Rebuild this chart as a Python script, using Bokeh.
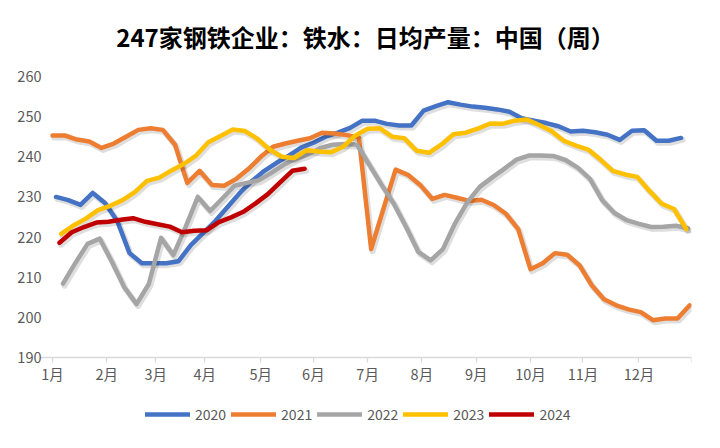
import numpy as np
from datetime import date
from bokeh.plotting import figure
from bokeh.models import Range1d, FixedTicker, Legend, LegendItem, Title
from bokeh.embed import file_html
from bokeh.resources import INLINE

# ---------------- data ----------------
title_text = "247家钢铁企业：铁水：日均产量：中国（周）"
years = ["2020", "2021", "2022", "2023", "2024"]
first_report = ["2020-01-03", "2021-01-01", "2022-01-07", "2023-01-06", "2024-01-05"]
colors = ["#4472C4", "#ED7D31", "#A5A5A5", "#FFC000", "#C00000"]

v2020 = [230.0, 229.2, 228.0, 231.0, 228.5, 224.0, 216.0, 213.5, 213.5, 213.5,
         214.0, 218.0, 221.0, 224.0, 227.5, 231.0, 234.0, 236.5, 238.5, 240.3,
         242.3, 243.5, 245.0, 246.0, 247.2, 249.0, 249.0, 248.2, 247.8, 247.8,
         251.5, 252.6, 253.6, 253.0, 252.5, 252.2, 251.8, 251.2, 249.6, 249.0,
         248.4, 247.6, 246.3, 246.5, 246.1, 245.5, 244.2, 246.5, 246.6, 244.0,
         244.0, 244.7]
v2021 = [245.3, 245.3, 244.3, 243.8, 242.2, 243.3, 245.0, 246.7, 247.1, 246.7,
         243.0, 233.5, 236.5, 233.0, 232.8, 234.5, 237.0, 240.0, 242.5, 243.3,
         244.0, 244.6, 246.0, 245.8, 245.4, 244.8, 217.0, 227.0, 236.8, 235.5,
         233.0, 229.5, 230.5, 229.8, 229.0, 229.3, 228.0, 225.8, 222.0, 212.0,
         213.5, 216.0, 215.6, 213.0, 208.0, 204.5, 203.0, 202.0, 201.3, 199.3,
         199.7, 199.7, 203.0]
v2022 = [208.4, 213.5, 218.3, 219.6, 213.8, 207.5, 203.3, 208.3, 219.8, 215.5,
         222.5, 230.0, 226.5, 229.6, 232.8, 233.5, 234.2, 236.0, 238.0, 239.5,
         240.6, 242.2, 243.0, 243.2, 243.0, 238.0, 233.0, 228.3, 222.5, 216.3,
         214.2, 217.0, 223.5, 228.7, 232.5, 234.8, 237.0, 239.3, 240.3, 240.3,
         240.2, 239.2, 237.3, 234.5, 229.2, 226.0, 224.2, 223.3, 222.5, 222.6,
         222.8, 222.2]
v2023 = [220.8, 222.9, 224.6, 226.7, 227.8, 229.2, 231.2, 234.0, 234.8, 236.6,
         238.2, 240.3, 243.6, 245.2, 246.8, 246.4, 244.5, 241.8, 240.0, 239.7,
         241.6, 241.3, 241.1, 242.5, 245.3, 247.0, 247.1, 245.0, 244.6, 241.5,
         241.0, 243.0, 245.6, 246.0, 247.0, 248.3, 248.2, 249.0, 249.3, 247.9,
         246.4, 244.0, 242.8, 241.8, 239.3, 236.5, 235.6, 235.0, 231.5, 228.3,
         227.0, 222.0]
v2024 = [218.6, 221.2, 222.5, 223.6, 223.8, 224.3, 224.7, 223.8, 223.2, 222.6,
         221.2, 221.6, 221.7, 223.7, 224.9, 226.3, 228.4, 230.7, 233.6, 236.5,
         237.0]
series_values = [v2020, v2021, v2022, v2023, v2024]

month_labels = ["1月", "2月", "3月", "4月", "5月", "6月", "7月", "8月", "9月",
                "10月", "11月", "12月", ""]
month_tick_days = [0, 31, 59, 87, 119, 149, 180, 211, 242, 273, 303, 335, 365]
y_ticks = [190, 200, 210, 220, 230, 240, 250, 260]
y_min, y_max = 190, 260
day_min, day_max = 0, 365

# ---------------- layout ----------------
DATA_W = 639            # pixel width of the Jan..Dec band
PAD_L = 13              # blank band left of 1月 so its label is not clipped
DATA_H = 281            # pixel height of the 190..260 band
EXTRA_H = 64            # blank band under the axis that holds the legend
FRAME_W = DATA_W + PAD_L
FRAME_H = DATA_H + EXTRA_H
ML, MR, MT, MB = 52 - PAD_L, 13, 76, 5
px_per_unit = DATA_H / (y_max - y_min)
px_per_day = DATA_W / (day_max - day_min)

p = figure(frame_width=FRAME_W, frame_height=FRAME_H,
           output_backend="svg", toolbar_location=None,
           x_range=Range1d(day_min - PAD_L / px_per_day, day_max),
           y_range=Range1d(y_min - EXTRA_H / px_per_unit, y_max),
           min_border_left=ML, min_border_right=MR,
           min_border_top=MT, min_border_bottom=MB)
p.background_fill_color = "white"
p.border_fill_color = "white"
p.outline_line_color = None
p.xgrid.visible = False
p.ygrid.visible = False

# invisible spacer between the title and the plot frame
p.add_layout(Title(text=" ", text_font_size="10px", standoff=5,
                   text_color="white"), "above")

p.title.text = title_text
p.title.text_font = "Noto Sans CJK SC"
p.title.text_font_size = "24px"
p.title.text_font_style = "bold"
p.title.text_color = "#000000"
p.title.align = "center"
p.title.offset = -10
p.title.standoff = 10

renderers = []
for yr, start, col, vals in zip(years, first_report, colors, series_values):
    d0 = date.fromisoformat(start)
    start_day = (d0 - date(d0.year, 1, 1)).days
    xs = start_day + 7 * np.arange(len(vals))
    ys = np.array(vals)
    # soft shadow (Excel style) derived from the same data
    p.line(xs + 1.5 / px_per_day, ys - 2.0 / px_per_unit, line_color="#000000",
           line_alpha=0.13, line_width=6, line_join="round", line_cap="round")
    r = p.line(xs, ys, line_color=col, line_width=4.5, line_join="round",
               line_cap="round")
    renderers.append((yr, r))

# x axis drawn at y = 190 inside the frame
p.xaxis.fixed_location = y_min
p.xaxis.ticker = FixedTicker(ticks=month_tick_days)
p.xaxis.major_label_overrides = {t: l for t, l in zip(month_tick_days, month_labels)}
p.xaxis.axis_line_color = "#D9D9D9"
p.xaxis.axis_line_width = 1.3
p.xaxis.major_tick_line_color = "#D9D9D9"
p.xaxis.major_tick_line_width = 1.3
p.xaxis.major_tick_out = 5
p.xaxis.major_tick_in = 0
p.xaxis.minor_tick_line_color = None
p.xaxis.major_label_standoff = 0
p.xaxis.major_label_text_font = "Noto Sans CJK SC"
p.xaxis.major_label_text_font_size = "14.5px"
p.xaxis.major_label_text_color = "#595959"
p.x_range.bounds = None

p.yaxis.ticker = FixedTicker(ticks=y_ticks)
p.yaxis.axis_line_color = None
p.yaxis.major_tick_line_color = None
p.yaxis.major_tick_out = 0
p.yaxis.major_tick_in = 0
p.yaxis.minor_tick_line_color = None
p.yaxis.major_label_standoff = -2
p.yaxis.major_label_text_font = "Noto Sans CJK SC"
p.yaxis.major_label_text_font_size = "14.5px"
p.yaxis.major_label_text_color = "#595959"

legend = Legend(items=[LegendItem(label=yr, renderers=[r]) for yr, r in renderers],
                orientation="horizontal", location=(PAD_L + 93, -3),
                border_line_color=None, background_fill_alpha=0,
                padding=0, margin=0, spacing=5, glyph_width=45, glyph_height=16,
                label_height=16, label_standoff=5, label_text_font="Noto Sans CJK SC",
                label_text_font_size="14px", label_text_color="#595959")
p.add_layout(legend)

open("out.html", "w").write(file_html(p, INLINE))
